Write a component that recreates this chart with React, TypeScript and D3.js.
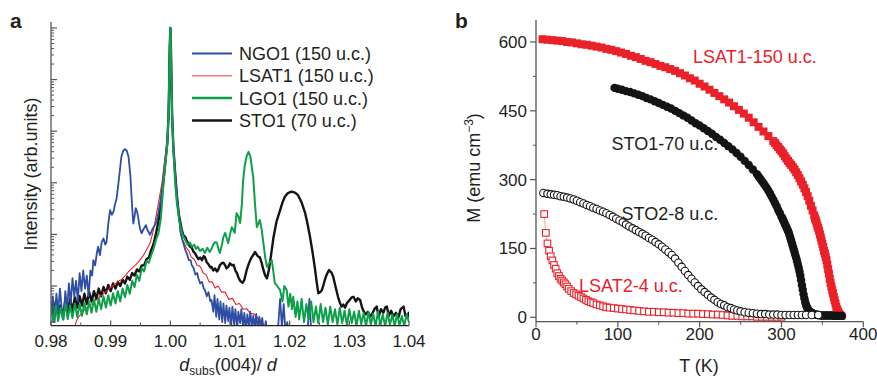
import React from 'react';
import * as d3 from 'd3';

const W = 877;
const H = 378;
const FONT = '"Liberation Sans", Arial, Helvetica, sans-serif';

// ---------- Panel a: XRD, x = d_subs(004)/d, y = log10(intensity, arb. units) ----------
const ngo1: [number, number][] = [
  [0.9800,0.45],[0.9803,0.80],[0.9806,0.30],[0.9809,0.85],[0.9812,0.50],[0.9815,0.95],[0.9818,0.55],[0.9821,0.35],
  [0.9824,0.90],[0.9827,0.55],[0.9830,1.05],[0.9833,0.65],[0.9836,1.15],[0.9839,0.80],[0.9842,1.10],[0.9845,0.70],
  [0.9848,1.25],[0.9851,0.90],[0.9854,1.30],[0.9857,0.95],[0.9860,1.20],[0.9863,0.80],[0.9866,1.30],[0.9869,1.20],
  [0.9871,1.50],[0.9874,1.40],[0.9877,1.65],[0.9879,1.76],[0.9882,1.60],[0.9885,1.85],[0.9888,1.92],[0.9891,1.80],
  [0.9893,1.85],[0.9896,2.20],[0.9899,2.47],[0.9902,2.38],[0.9905,2.45],[0.9907,2.57],[0.9910,2.70],[0.9913,2.99],
  [0.9916,3.30],[0.9918,3.51],[0.9921,3.62],[0.9924,3.65],[0.9927,3.62],[0.9930,3.50],[0.9933,3.15],[0.9935,2.73],
  [0.9937,2.35],[0.9938,2.21],[0.9940,2.35],[0.9942,2.51],[0.9944,2.45],[0.9946,2.34],[0.9949,2.12],[0.9952,2.02],
  [0.9955,2.10],[0.9959,2.18],[0.9962,2.08],[0.9966,1.99],[0.9970,2.10],[0.9974,2.18],[0.9977,2.25],[0.9980,2.42],
  [0.9983,2.62],[0.9986,2.85],[0.9989,3.10],[0.9992,3.45],[0.9995,3.75],[0.9997,4.30],[0.9998,4.90],[0.9999,5.60],
  [1.0000,6.00],[1.0001,5.60],[1.0002,4.90],[1.0003,4.30],[1.0005,3.70],[1.0008,3.20],[1.0011,2.75],[1.0014,2.40],
  [1.0017,2.05],[1.0020,1.90],[1.0025,1.70],[1.0028,1.62],[1.0031,1.50],[1.0034,1.50],[1.0036,1.40],[1.0039,1.35],
  [1.0042,1.22],[1.0045,1.25],[1.0047,1.15],[1.0050,1.05],[1.0053,1.08],[1.0056,0.95],[1.0058,0.92],[1.0061,0.80],
  [1.0064,0.88],[1.0067,0.70],[1.0069,0.73],[1.0072,0.50],[1.0074,0.82],[1.0077,0.40],[1.0079,0.75],[1.0082,0.35],
  [1.0084,0.70],[1.0087,0.30],[1.0089,0.66],[1.0092,0.28],[1.0094,0.62],[1.0097,0.32],[1.0099,0.58],[1.0102,0.22],
  [1.0104,0.60],[1.0107,0.25],[1.0109,0.55],[1.0112,0.18],[1.0114,0.50],[1.0117,0.28],[1.0119,0.55],[1.0122,0.20],
  [1.0124,0.48],[1.0127,0.15],[1.0129,0.45],[1.0132,0.22],[1.0134,0.50],[1.0137,0.18],[1.0139,0.42],[1.0142,0.20],
  [1.0144,0.46],[1.0147,0.15],[1.0149,0.40],[1.0152,0.20],[1.0154,0.38],[1.0157,0.10],[1.0160,0.32],[1.0163,0.05],
  [1.0170,-0.20],[1.0180,0.10],[1.0184,0.75],[1.0187,0.20],[1.0190,0.65],[1.0193,0.10],[1.0196,0.30],[1.0200,-0.10],
  [1.0228,-0.10],[1.0231,0.30],[1.0233,0.75],[1.0236,0.15],[1.0240,-0.20],
];

const lsat1Xrd: [number, number][] = [
  [0.9838,0.15],[0.9842,0.30],[0.9846,0.40],[0.9850,0.45],[0.9854,0.52],[0.9858,0.55],[0.9862,0.60],[0.9866,0.64],
  [0.9870,0.66],[0.9874,0.72],[0.9878,0.74],[0.9882,0.80],[0.9886,0.82],[0.9890,0.88],[0.9894,0.90],[0.9898,0.96],
  [0.9902,0.98],[0.9906,1.03],[0.9910,1.06],[0.9914,1.10],[0.9918,1.12],[0.9922,1.17],[0.9926,1.22],[0.9930,1.28],
  [0.9934,1.32],[0.9938,1.37],[0.9942,1.41],[0.9946,1.46],[0.9950,1.52],[0.9954,1.58],[0.9958,1.66],[0.9962,1.74],
  [0.9966,1.83],[0.9970,2.00],[0.9974,2.22],[0.9977,2.41],[0.9980,2.60],[0.9983,2.80],[0.9986,3.00],[0.9989,3.30],
  [0.9992,3.55],[0.9995,3.85],[0.9997,4.30],[0.9998,4.90],[0.9999,5.60],[1.0000,6.00],[1.0001,5.60],[1.0002,4.90],
  [1.0003,4.30],[1.0005,3.70],[1.0008,3.15],[1.0011,2.70],[1.0014,2.35],[1.0017,2.05],[1.0019,1.92],[1.0023,1.84],
  [1.0027,1.74],[1.0031,1.68],[1.0035,1.56],[1.0040,1.52],[1.0045,1.40],[1.0050,1.38],[1.0055,1.25],[1.0060,1.22],
  [1.0065,1.08],[1.0070,1.08],[1.0075,0.96],[1.0080,1.00],[1.0086,0.88],[1.0092,0.88],[1.0098,0.74],[1.0104,0.76],
  [1.0110,0.64],[1.0116,0.66],[1.0122,0.55],[1.0128,0.56],[1.0134,0.47],[1.0140,0.46],[1.0146,0.38],[1.0152,0.33],
  [1.0156,0.25],[1.0160,0.15],
];

const lgo1: [number, number][] = [
  [0.9800,0.60],[0.9804,0.30],[0.9808,0.62],[0.9812,0.32],[0.9816,0.58],[0.9820,0.35],[0.9824,0.65],[0.9828,0.36],
  [0.9832,0.62],[0.9836,0.38],[0.9840,0.66],[0.9844,0.40],[0.9848,0.64],[0.9852,0.42],[0.9856,0.68],[0.9860,0.45],
  [0.9864,0.70],[0.9868,0.48],[0.9872,0.74],[0.9876,0.50],[0.9880,0.76],[0.9884,0.55],[0.9888,0.80],[0.9892,0.58],
  [0.9896,0.82],[0.9900,0.62],[0.9904,0.86],[0.9908,0.66],[0.9912,0.90],[0.9916,0.70],[0.9920,0.95],[0.9924,0.78],
  [0.9928,1.02],[0.9932,0.85],[0.9936,1.10],[0.9940,0.98],[0.9944,1.22],[0.9948,1.10],[0.9952,1.35],[0.9956,1.28],
  [0.9960,1.48],[0.9964,1.45],[0.9968,1.60],[0.9972,1.72],[0.9976,1.90],[0.9980,2.02],[0.9984,2.30],[0.9987,2.75],
  [0.9989,3.05],[0.9992,3.40],[0.9995,3.75],[0.9997,4.30],[0.9998,4.90],[0.9999,5.60],[1.0000,6.00],[1.0001,5.60],
  [1.0002,4.90],[1.0003,4.30],[1.0005,3.70],[1.0008,3.00],[1.0011,2.60],[1.0014,2.35],[1.0017,2.14],[1.0021,1.98],
  [1.0025,1.89],[1.0029,1.80],[1.0033,1.84],[1.0036,1.76],[1.0040,1.80],[1.0043,1.72],[1.0046,1.76],[1.0050,1.68],
  [1.0054,1.72],[1.0058,1.64],[1.0062,1.74],[1.0066,1.66],[1.0069,1.72],[1.0072,1.80],[1.0075,1.85],[1.0078,1.84],
  [1.0081,1.70],[1.0083,1.64],[1.0086,1.78],[1.0089,1.95],[1.0092,2.03],[1.0095,1.90],[1.0097,1.83],[1.0100,2.00],
  [1.0103,2.14],[1.0106,2.08],[1.0108,2.03],[1.0110,2.30],[1.0111,2.41],[1.0114,2.35],[1.0117,2.22],[1.0120,2.60],
  [1.0122,3.05],[1.0125,3.35],[1.0128,3.52],[1.0131,3.60],[1.0134,3.52],[1.0136,3.35],[1.0139,3.10],[1.0142,2.57],
  [1.0145,2.14],[1.0148,2.22],[1.0150,2.28],[1.0153,2.10],[1.0156,1.83],[1.0159,1.55],[1.0162,1.37],[1.0166,1.45],
  [1.0170,1.50],[1.0173,1.25],[1.0175,1.06],[1.0179,1.00],[1.0184,0.92],[1.0188,0.70],[1.0191,1.00],[1.0195,0.92],
  [1.0198,0.60],[1.0201,0.85],[1.0204,0.55],[1.0206,0.79],[1.0210,0.40],[1.0213,0.70],[1.0216,0.35],[1.0220,0.75],
  [1.0224,0.30],[1.0228,0.65],[1.0232,0.35],[1.0236,0.70],[1.0240,0.30],[1.0244,0.60],[1.0248,0.28],[1.0252,0.65],
  [1.0256,0.30],[1.0260,0.58],[1.0264,0.25],[1.0268,0.60],[1.0272,0.30],[1.0276,0.55],[1.0280,0.25],[1.0284,0.58],
  [1.0288,0.28],[1.0292,0.52],[1.0296,0.24],[1.0300,0.55],[1.0304,0.28],[1.0308,0.50],[1.0312,0.22],[1.0316,0.52],
  [1.0320,0.26],[1.0324,0.48],[1.0328,0.22],[1.0332,0.50],[1.0336,0.25],[1.0340,0.46],[1.0344,0.22],[1.0348,0.50],
  [1.0352,0.24],[1.0356,0.45],[1.0360,0.22],[1.0364,0.48],[1.0368,0.25],[1.0372,0.44],[1.0376,0.22],[1.0380,0.46],
  [1.0384,0.24],[1.0388,0.42],[1.0392,0.22],[1.0396,0.45],[1.0400,0.30],
];

const sto1Xrd: [number, number][] = [
  [0.9800,0.65],[0.9804,0.42],[0.9808,0.70],[0.9812,0.45],[0.9816,0.62],[0.9820,0.40],[0.9824,0.72],[0.9828,0.50],
  [0.9832,0.75],[0.9836,0.52],[0.9840,0.78],[0.9844,0.58],[0.9848,0.80],[0.9852,0.62],[0.9856,0.85],[0.9860,0.65],
  [0.9864,0.88],[0.9868,0.70],[0.9872,0.90],[0.9876,0.75],[0.9880,0.95],[0.9884,0.80],[0.9888,0.98],[0.9892,0.86],
  [0.9896,1.02],[0.9900,0.90],[0.9904,1.05],[0.9908,0.95],[0.9912,1.08],[0.9916,1.00],[0.9920,1.12],[0.9924,1.05],
  [0.9928,1.18],[0.9932,1.12],[0.9936,1.25],[0.9940,1.20],[0.9944,1.32],[0.9948,1.28],[0.9952,1.40],[0.9956,1.40],
  [0.9960,1.52],[0.9964,1.55],[0.9968,1.70],[0.9972,1.82],[0.9976,2.02],[0.9980,2.25],[0.9984,2.55],[0.9987,2.90],
  [0.9989,3.10],[0.9992,3.45],[0.9995,3.80],[0.9997,4.30],[0.9998,4.90],[0.9999,5.60],[1.0000,6.00],[1.0001,5.60],
  [1.0002,4.90],[1.0003,4.30],[1.0005,3.70],[1.0008,3.20],[1.0011,2.75],[1.0014,2.40],[1.0017,2.22],[1.0019,2.09],
  [1.0022,1.98],[1.0025,1.95],[1.0028,1.86],[1.0030,1.83],[1.0033,1.76],[1.0036,1.74],[1.0039,1.66],[1.0041,1.64],
  [1.0044,1.58],[1.0047,1.52],[1.0050,1.55],[1.0053,1.50],[1.0056,1.58],[1.0058,1.56],[1.0061,1.46],[1.0064,1.42],
  [1.0067,1.36],[1.0069,1.37],[1.0072,1.30],[1.0075,1.34],[1.0078,1.28],[1.0080,1.31],[1.0083,1.40],[1.0086,1.44],
  [1.0089,1.45],[1.0092,1.40],[1.0094,1.34],[1.0097,1.37],[1.0100,1.44],[1.0103,1.40],[1.0106,1.41],[1.0109,1.30],
  [1.0112,1.24],[1.0114,1.17],[1.0117,1.10],[1.0121,1.06],[1.0124,1.12],[1.0128,1.31],[1.0132,1.45],[1.0136,1.55],
  [1.0140,1.62],[1.0142,1.66],[1.0145,1.60],[1.0148,1.56],[1.0150,1.56],[1.0153,1.45],[1.0156,1.31],[1.0159,1.20],
  [1.0162,1.15],[1.0165,1.30],[1.0167,1.45],[1.0170,1.70],[1.0173,1.95],[1.0178,2.25],[1.0184,2.47],[1.0188,2.62],
  [1.0192,2.73],[1.0197,2.80],[1.0203,2.83],[1.0209,2.81],[1.0214,2.76],[1.0220,2.62],[1.0226,2.41],[1.0230,2.20],
  [1.0234,1.96],[1.0238,1.68],[1.0242,1.37],[1.0245,1.10],[1.0248,0.86],[1.0251,0.88],[1.0254,0.92],[1.0256,0.99],
  [1.0259,1.12],[1.0262,1.22],[1.0266,1.31],[1.0270,1.26],[1.0273,1.18],[1.0277,0.98],[1.0281,0.79],[1.0284,0.68],
  [1.0287,0.60],[1.0290,0.64],[1.0293,0.58],[1.0296,0.67],[1.0300,0.72],[1.0304,0.78],[1.0307,0.79],[1.0311,0.70],
  [1.0314,0.76],[1.0318,0.73],[1.0321,0.60],[1.0323,0.53],[1.0327,0.45],[1.0331,0.50],[1.0335,0.41],[1.0338,0.45],
  [1.0342,0.55],[1.0346,0.60],[1.0349,0.40],[1.0353,0.55],[1.0357,0.48],[1.0360,0.58],[1.0363,0.60],[1.0366,0.42],
  [1.0370,0.52],[1.0374,0.41],[1.0378,0.48],[1.0382,0.38],[1.0386,0.55],[1.0391,0.60],[1.0394,0.42],[1.0398,0.41],
  [1.0400,0.50],
];

const xrdLegend = ['NGO1 (150 u.c.)', 'LSAT1 (150 u.c.)', 'LGO1 (150 u.c.)', 'STO1 (70 u.c.)'];
const aXTicks = [0.98, 0.99, 1.0, 1.01, 1.02, 1.03, 1.04];
const aXMinor = [0.985, 0.995, 1.005, 1.015, 1.025, 1.035];
const aDecades = [1, 2, 3, 4, 5, 6];

// ---------- Panel b: M(T) ----------
const tLsat1 = [8,14,20,26,32,38,44,50,56,62,68,74,80,86,92,98,104,110,116,122,128,134,140,146,152,158,164,170,176,182,188,194,200,206,212,218,224,230,236,242,248,254,260,266,272,278,284,
  290,292,294,296,298,300,302,304,306,308,310,312,314,316,318,320,322,324,326,328,330,332,334,336,338,340,
  341,342,343,344,345,346,347,348,349,350,351,352,353,354,355,356,357,358,359,360,361,362,363,364,365,366,367,368,369,370,371,372,373];
const mLsat1 = [606,605,604,603,602,600,599,597,595,594,592,590,588,585,583,580,577,574,570,567,563,559,556,552,548,545,541,537,532,527,521,516,509,503,496,489,482,475,468,460,452,444,435,425,415,405,395,
  384,380,375,371,366,362,357,351,346,341,336,332,327,322,316,310,303,296,289,281,273,264,254,243,233,222,
  216,211,205,199,194,188,181,174,167,160,153,145,139,132,125,115,105,95,84,75,67,59,52,44,37,30,23,17,13,9,6,4,3];

const tSto1 = [96,100,105,110,115,120,125,130,135,140,145,150,155,160,165,170,175,180,185,190,195,200,205,210,215,220,225,230,235,240,245,250,255,260,265,
  270,272,274,276,278,280,282,284,286,288,290,292,294,296,298,300,301,302,303,304,305,306,307,308,309,310,311,312,313,314,315,316,317,318,319,320,
  321,322,323,324,325,326,327,328,329,330,331,332,333,334,336,338,340,342,344,346,348,350,352,354,356,358,360,362,364,366,368,370,372,374];
const mSto1 = [500,498,496,493,491,488,485,482,478,475,471,467,463,459,455,450,445,440,435,429,423,418,412,406,400,393,387,380,373,366,358,350,341,332,322,
  312,307,302,297,292,287,282,276,270,263,256,249,242,234,227,219,216,212,208,204,200,196,192,188,184,178,172,166,160,154,148,142,135,129,122,115,
  108,100,91,81,70,60,50,41,33,27,22,19,16,14,11,9,7,6,5,5,4,4,4,4,4,4,4,4,3,3,3,3,3,3];

const tSto2 = [9,14,18,22,26,30,34,38,42,46,50,54,58,62,66,70,74,78,82,86,90,94,98,102,106,110,114,118,122,126,130,134,138,142,146,150,154,158,162,166,170,174,178,182,186,190,194,198,202,206,210,214,218,222,226,230,234,238,242,246,250,255,260,265,270,275,280,285,290,295,300,305,310,315,320,325,330,337,345];
const mSto2 = [271,269,268,267,266,264,263,261,259,257,254,251,248,245,242,239,236,233,230,227,223,219,215,211,207,202,198,194,190,186,182,178,173,169,164,159,154,148,142,136,128,119,110,101,92,84,76,68,61,55,49,43,38,33,29,26,22,20,17,15,13,11,10,9,8,7,7,6,6,6,5,5,5,5,5,5,5,5,5];

const tLsat2 = [10,12,14,16,18,20,22,24,26,28,30,32,34,36,38,40,43,46,49,52,55,58,61,64,67,70,74,78,82,86,90,95,100,105,110,115,120,126,132,138,144,150,156,162,168,174,180,186,192,198,204,210,216,222,228,234,240,246,252,258,264,270,276,282,288,294,300];
const mLsat2 = [225,184,161,145,133,124,114,106,96,90,84,80,76,72,67,62,57,53,50,47,44,41,38,35,33,31,28,26,24,22,21,20,19,18,17,16,15,14,13,12,12,11,11,10,10,9,9,8,8,8,7,7,6,6,5,4,3,3,2,2,2,1,1,1,1,1,1];

const bXTicks = [0, 100, 200, 300, 400];
const bXMinor = [50, 150, 250, 350];
const bYTicks = [0, 150, 300, 450, 600];
const bYMinor = [75, 225, 375, 525];

const annotations = ['LSAT1-150 u.c.', 'STO1-70 u.c.', 'STO2-8 u.c.', 'LSAT2-4 u.c.'];

// ---------- styles ----------
const C_BLUE = '#2d4ea2';
const C_RED = '#ea2129';
const C_GREEN = '#0d9f4a';
const C_BLACK = '#141414';
const C_AXIS = '#555555';
const C_TEXT = '#231f20';

export default function App() {
  // panel a scales
  const xA = d3.scaleLinear().domain([0.98, 1.04]).range([51, 409]);
  const yA = d3.scaleLinear().domain([0.23, 6.116]).range([325.7, 22]);
  const lineA = d3.line<[number, number]>().x((d) => xA(d[0])).y((d) => yA(d[1]));
  const yMinorA: number[] = [];
  for (let n = 0; n <= 6; n++) {
    for (let k = 2; k <= 9; k++) {
      const v = n + Math.log10(k);
      if (v > 0.23 && v < 6.116) yMinorA.push(v);
    }
  }

  // panel b scales
  const xB = d3.scaleLinear().domain([0, 400]).range([536, 863.3]);
  const yB = d3.scaleLinear().domain([0, 600]).range([317.3, 42]);
  const axisYB = 321.7;
  const zipB = (t: number[], m: number[]) => t.map((v, i) => [v, m[i]] as [number, number]);
  const lsat1 = zipB(tLsat1, mLsat1);
  const sto1 = zipB(tSto1, mSto1);
  const sto2 = zipB(tSto2, mSto2);
  const lsat2 = zipB(tLsat2, mLsat2);
  const lineB = d3.line<[number, number]>().x((d) => xB(d[0])).y((d) => yB(d[1]));

  const legendStyles = [
    { color: C_BLUE, w: 2 },
    { color: '#f07a7a', w: 1.5 },
    { color: C_GREEN, w: 2.5 },
    { color: C_BLACK, w: 2.5 },
  ];

  return (
    <svg width={W} height={H} style={{ position: 'absolute', left: 0, top: 0, background: '#fff' }} fontFamily={FONT}>
      <defs>
        <clipPath id="clipA">
          <rect x={51} y={18} width={358} height={307.7} />
        </clipPath>
      </defs>

      {/* ----- Panel a ----- */}
      <text x={10} y={28} fontSize={21} fontWeight="bold" fill={C_TEXT}>a</text>
      <g clipPath="url(#clipA)">
        <path d={lineA(sto1Xrd) || ''} fill="none" stroke={C_BLACK} strokeWidth={2.4} strokeLinejoin="round" />
        <path d={lineA(lsat1Xrd) || ''} fill="none" stroke={C_RED} strokeWidth={1.1} strokeLinejoin="round" />
        <path d={lineA(ngo1) || ''} fill="none" stroke={C_BLUE} strokeWidth={1.8} strokeLinejoin="round" />
        <path d={lineA(lgo1) || ''} fill="none" stroke={C_GREEN} strokeWidth={2} strokeLinejoin="round" />
      </g>
      {/* axes a */}
      <line x1={51} x2={51} y1={22} y2={325.7} stroke={C_AXIS} strokeWidth={1.3} />
      <line x1={51} x2={409} y1={325.7} y2={325.7} stroke={C_TEXT} strokeWidth={1.3} />
      {aDecades.map((v) => (
        <line key={'ad' + v} x1={51} x2={57} y1={yA(v)} y2={yA(v)} stroke={C_AXIS} strokeWidth={1.2} />
      ))}
      {yMinorA.map((v, i) => (
        <line key={'am' + i} x1={51} x2={54} y1={yA(v)} y2={yA(v)} stroke={C_AXIS} strokeWidth={1} />
      ))}
      {aXTicks.map((v) => (
        <line key={'axt' + v} x1={xA(v)} x2={xA(v)} y1={325.7} y2={320.5} stroke={C_AXIS} strokeWidth={1.2} />
      ))}
      {aXMinor.map((v) => (
        <line key={'axm' + v} x1={xA(v)} x2={xA(v)} y1={325.7} y2={322.5} stroke={C_AXIS} strokeWidth={1} />
      ))}
      {aXTicks.map((v) => (
        <text key={'axl' + v} x={xA(v)} y={346.7} fontSize={17} textAnchor="middle" fill={C_TEXT}>
          {v.toFixed(2)}
        </text>
      ))}
      <text x={228} y={371} fontSize={18} textAnchor="middle" fill={C_TEXT}>
        <tspan fontStyle="italic">d</tspan>
        <tspan fontSize={12} dy={4}>subs</tspan>
        <tspan dy={-4}>(004)/ </tspan>
        <tspan fontStyle="italic">d</tspan>
      </text>
      <text transform="translate(37,174) rotate(-90)" fontSize={18} textAnchor="middle" fill={C_TEXT}>
        Intensity (arb.units)
      </text>
      {/* legend */}
      {xrdLegend.map((label, i) => (
        <g key={label}>
          <line x1={192} x2={232} y1={53.5 + i * 22.3} y2={53.5 + i * 22.3} stroke={legendStyles[i].color} strokeWidth={legendStyles[i].w} />
          <text x={239} y={60 + i * 22.3} fontSize={18} fill={C_TEXT}>{label}</text>
        </g>
      ))}

      {/* ----- Panel b ----- */}
      <text x={455} y={28} fontSize={21} fontWeight="bold" fill={C_TEXT}>b</text>
      {lsat1.map((p, i) => (
        <rect key={'l1' + i} x={xB(p[0]) - 4} y={yB(p[1]) - 4} width={8} height={8} fill={C_RED} />
      ))}
      {sto1.map((p, i) => (
        <circle key={'s1' + i} cx={xB(p[0])} cy={yB(p[1])} r={4.2} fill={C_BLACK} />
      ))}
      <path d={lineB(lsat2) || ''} fill="none" stroke="#f08a9a" strokeWidth={0.8} />
      {lsat2.map((p, i) => (
        <rect key={'l2' + i} x={xB(p[0]) - 3.3} y={yB(p[1]) - 3.3} width={6.6} height={6.6} fill="#fff" stroke={C_RED} strokeWidth={1.1} />
      ))}
      {sto2.map((p, i) => (
        <circle key={'s2' + i} cx={xB(p[0])} cy={yB(p[1])} r={3.7} fill="#fff" stroke={C_BLACK} strokeWidth={1.1} />
      ))}
      {/* axes b */}
      <line x1={536} x2={536} y1={20} y2={axisYB} stroke={C_AXIS} strokeWidth={1.3} />
      <line x1={536} x2={863.3} y1={axisYB} y2={axisYB} stroke={C_AXIS} strokeWidth={1.3} />
      {bYTicks.map((v) => (
        <g key={'by' + v}>
          <line x1={530} x2={536} y1={yB(v)} y2={yB(v)} stroke={C_AXIS} strokeWidth={1.2} />
          <text x={527} y={yB(v) + 6} fontSize={17} textAnchor="end" fill={C_TEXT}>{v}</text>
        </g>
      ))}
      {bYMinor.map((v) => (
        <line key={'bym' + v} x1={533} x2={536} y1={yB(v)} y2={yB(v)} stroke={C_AXIS} strokeWidth={1} />
      ))}
      {bXTicks.map((v) => (
        <g key={'bx' + v}>
          <line x1={xB(v)} x2={xB(v)} y1={axisYB} y2={axisYB + 5.5} stroke={C_AXIS} strokeWidth={1.2} />
          <text x={xB(v)} y={340} fontSize={17} textAnchor="middle" fill={C_TEXT}>{v}</text>
        </g>
      ))}
      {bXMinor.map((v) => (
        <line key={'bxm' + v} x1={xB(v)} x2={xB(v)} y1={axisYB} y2={axisYB + 3} stroke={C_AXIS} strokeWidth={1} />
      ))}
      <text x={699} y={372} fontSize={18} textAnchor="middle" fill={C_TEXT}>T (K)</text>
      <text transform="translate(480,168) rotate(-90)" fontSize={18} textAnchor="middle" fill={C_TEXT}>
        M (emu cm<tspan fontSize={12} dy={-7}>−3</tspan><tspan dy={7}>)</tspan>
      </text>
      {/* annotations */}
      <text x={693} y={63.3} fontSize={18} fill={C_RED}>{annotations[0]}</text>
      <text x={611.5} y={150} fontSize={18} fill={C_TEXT}>{annotations[1]}</text>
      <text x={621.5} y={220} fontSize={18} fill={C_TEXT}>{annotations[2]}</text>
      <text x={579} y={291.5} fontSize={18} fill={C_RED}>{annotations[3]}</text>
    </svg>
  );
}
